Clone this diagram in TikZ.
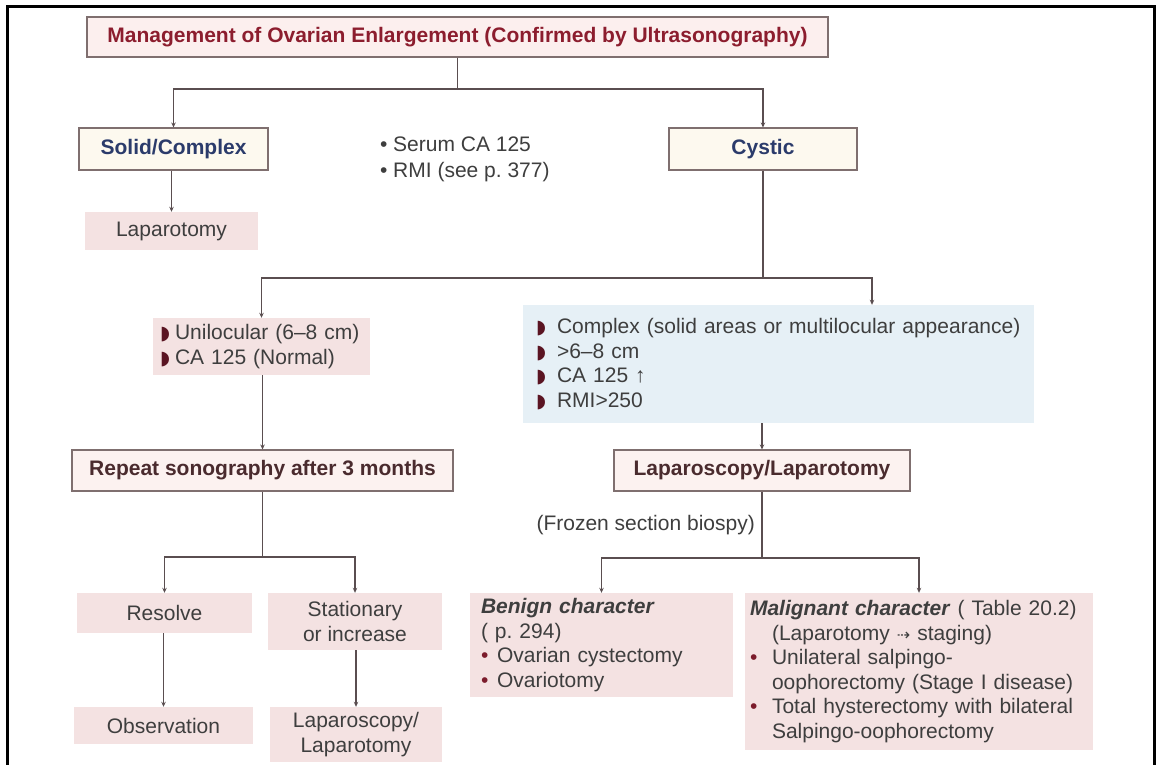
\documentclass[tikz,border=0pt]{standalone}
\usepackage{fontspec}
\setmainfont{Liberation Sans}
\newfontfamily\dejavu{DejaVu Sans}
\usetikzlibrary{arrows.meta}
\definecolor{titlefill}{HTML}{FCEFEE}
\definecolor{titlec}{HTML}{8C1D2E}
\definecolor{creamc}{HTML}{FDF9EF}
\definecolor{navyc}{HTML}{2B3B6B}
\definecolor{bordc}{HTML}{7F6F6F}
\definecolor{pinkc}{HTML}{F4E2E2}
\definecolor{bluec}{HTML}{E6F0F6}
\definecolor{lpinkc}{HTML}{FCF2F0}
\definecolor{brownc}{HTML}{4A2B2E}
\definecolor{txtc}{HTML}{3E3E3E}
\definecolor{linec}{HTML}{5A4E50}
\definecolor{bulc}{HTML}{7C1C2C}
\definecolor{hbulc}{HTML}{5A1422}
\newcommand\fs{\fontsize{21}{24.5}\selectfont}
\newcommand\halfbul{{\color{hbulc}\dejavu\fontsize{19}{19}\selectfont ◗}}
\newcommand\rbul{\makebox[16pt][l]{\textcolor{bulc}{•}}}
\newcommand\mbul{\makebox[22pt][l]{\textcolor{bulc}{•}}}
\tikzset{
  conn/.style={draw=linec, line width=1.3pt},
  arr/.style={conn, -{Stealth[length=5pt,width=4.5pt]}},
  hdbox/.style={draw=bordc, line width=1.1pt, inner sep=0pt, font=\fs\bfseries},
  pinkbox/.style={fill=pinkc, inner sep=0pt, font=\fs, text=txtc, align=center},
}
\begin{document}
\begin{tikzpicture}[x=1pt,y=-1pt]
\useasboundingbox (0,0) rectangle (1160,765);
\fill[white] (0,0) rectangle (1160,765);
\draw[line width=3pt] (7,765) -- (7,7) -- (1154,7) -- (1154,765);

\node[hdbox, fill=titlefill, text=titlec, minimum width=741pt, minimum height=40pt] (title) at (457.5,37) {Management of Ovarian Enlargement (Confirmed by Ultrasonography)};

\node[hdbox, fill=creamc, text=navyc, minimum width=189pt, minimum height=42pt] (solid) at (173.5,149) {Solid/Complex};
\node[pinkbox, minimum width=173pt, minimum height=38pt] (lapa) at (171.5,231) {Laparotomy};
\node[anchor=west, align=left, font=\fontsize{21}{26}\selectfont, text=txtc, inner sep=0pt] (tests) at (380,159) {\makebox[13pt][l]{•}Serum CA 125\\\makebox[13pt][l]{•}RMI (see p.\ 377)};
\node[hdbox, fill=creamc, text=navyc, minimum width=188pt, minimum height=42pt] (cystic) at (763,149) {Cystic};

\node[pinkbox, inner sep=0pt, inner xsep=7pt, text width=203pt, minimum height=57pt, align=left] (uniloc) at (261.5,346.5) {\halfbul\hspace{5pt}Unilocular (6–8 cm)\\\halfbul\hspace{5pt}CA 125 (Normal)};
\node[fill=bluec, inner sep=0pt, inner xsep=13pt, text width=485pt, minimum height=118pt, align=left, font=\fs, text=txtc] (complex) at (778.5,364) {\halfbul\hspace{11pt}Complex (solid areas or multilocular appearance)\\\halfbul\hspace{11pt}>6–8 cm\\\halfbul\hspace{11pt}CA 125 ↑\\\halfbul\hspace{11pt}RMI>250};

\node[hdbox, fill=lpinkc, text=brownc, minimum width=381pt, minimum height=41pt] (repeat) at (262.5,470.5) {Repeat sonography after 3 months};
\node[hdbox, fill=lpinkc, text=brownc, minimum width=296pt, minimum height=41pt] (lap) at (762,470.5) {Laparoscopy/Laparotomy};
\node[anchor=east, font=\fs, text=txtc, inner sep=0pt] (frozen) at (755,525) {(Frozen section biospy)};

\node[pinkbox, minimum width=175pt, minimum height=40pt] (resolve) at (164.5,613) {Resolve};
\node[pinkbox, minimum width=174pt, minimum height=57pt] (stat) at (355,621.5) {Stationary\\or increase};
\node[pinkbox, minimum width=179pt, minimum height=37pt] (obs) at (163.5,725.5) {Observation};
\node[pinkbox, minimum width=172pt, minimum height=55pt] (lap2) at (356,734.5) {Laparoscopy/\\Laparotomy};

\node[pinkbox, align=left, inner xsep=11pt, text width=241pt, minimum height=104pt] (benign) at (601.5,645) {\textbf{\textit{Benign character}}\\( p.\ 294)\\\rbul Ovarian cystectomy\\\rbul Ovariotomy};
\node[pinkbox, align=left, inner xsep=5pt, text width=338pt, minimum height=157pt] (malig) at (919,671.5) {\textbf{\textit{Malignant character}} ( Table 20.2)\\\hspace*{22pt}(Laparotomy {\dejavu\fontsize{16}{16}\selectfont ⇢} staging)\\\mbul Unilateral salpingo-\\\hspace*{22pt}oophorectomy (Stage I disease)\\\mbul Total hysterectomy with bilateral\\\hspace*{22pt}Salpingo-oophorectomy};

\coordinate (j1) at (462,89);
\draw[conn] (title.south) -- (title.south |- j1);
\draw[arr] (title.south |- j1) -| (solid.north);
\draw[arr] (title.south |- j1) -| (cystic.north);
\draw[arr] (lapa.north |- solid.south) -- (lapa.north);

\coordinate (j2) at (763,278);
\draw[conn] (cystic.south) -- (cystic.south |- j2);
\draw[arr] (cystic.south |- j2) -| (uniloc.north);
\draw[arr] (cystic.south |- j2) -| ([xshift=93.5pt]complex.north);
\draw[arr] (repeat.north |- uniloc.south) -- (repeat.north);
\draw[arr] (lap.north |- complex.south) -- (lap.north);

\coordinate (j3) at (262,557);
\draw[conn] (repeat.south) -- (repeat.south |- j3);
\draw[arr] (repeat.south |- j3) -| (resolve.north);
\draw[arr] (repeat.south |- j3) -| (stat.north);
\draw[arr] (obs.north |- resolve.south) -- (obs.north);
\draw[arr] (lap2.north |- stat.south) -- (lap2.north);

\coordinate (j4) at (762,558);
\draw[conn] (lap.south) -- (lap.south |- j4);
\draw[arr] (lap.south |- j4) -| (benign.north);
\draw[arr] (lap.south |- j4) -| (malig.north);
\end{tikzpicture}
\end{document}
